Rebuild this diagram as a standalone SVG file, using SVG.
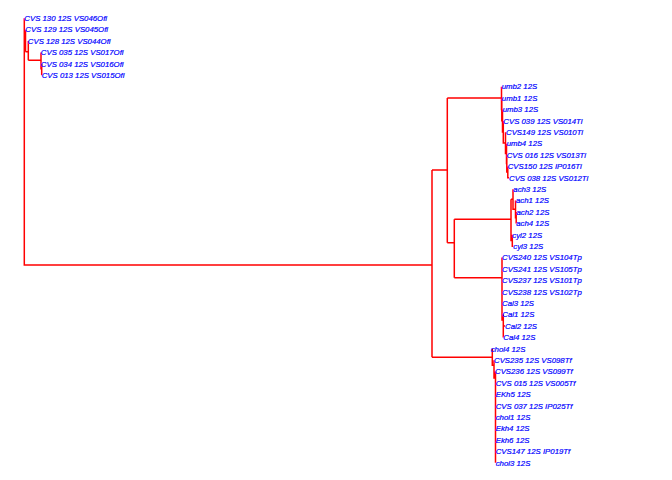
<svg xmlns="http://www.w3.org/2000/svg" width="672" height="480" viewBox="0 0 672 480">
<style>
.e{fill:none;stroke:#FF0000;stroke-width:1.5;stroke-linecap:butt}
.t{font-family:"Liberation Sans",Arial,sans-serif;font-style:italic;font-size:7.8px;fill:#0000FF;stroke:#0000FF;stroke-width:0.2}
</style>
<rect width="672" height="480" fill="#FFFFFF"/>
<g id="edges" class="e">
<path d="M24.3,18.3V265H432"/>
<path d="M24.3,41.2H25.5M25.5,29.7V51.7M25.5,51.7H28.3M28.3,41.1V60.2M28.3,60.2H41M41,52.5V69.6M41,69.6H41.7M41.7,63.9V75.3"/>
<path d="M432,170V357.3M432,170H447.3M447.3,98V242.7M447.3,98H501.5M447.3,242.7H454.3M454.3,219.3V277.7M454.3,219.3H511M454.3,277.7H502"/>
<path d="M501.5,86.7V109.4H501.8M501.8,98.1V120.7H502.5M502.5,109.5V131.9H503.3M503.3,120.9V142.9H505.5M505.5,132.3V153.6H506.5M506.5,143.7V163.6H506.8M506.8,155V172.1H507.8M507.8,166.4V177.8H509"/>
<path d="M511,199.2V240.5H512.3M511,199.2H513M513,189.2V209.2H515.5M515.5,200.6V217.7H516.2M516.2,212V223.4M512.3,234.8V246.2H513.3"/>
<path d="M502,257.6V320H503.3M503.3,314.6V337.4M503.3,326H505"/>
<path d="M432,357.3H492.3M492.3,348.8V365.3H494M494,360.2V378H495.5M495.5,371.6V462.7"/>
</g>
<g id="n0"><text class="t" x="24.3" y="21">CVS 130 12S VS046Ofi</text></g>
<g id="n1"><text class="t" x="25.3" y="32.4">CVS 129 12S VS045Ofi</text></g>
<g id="n2"><text class="t" x="27.8" y="43.8">CVS 128 12S VS044Ofi</text></g>
<g id="n3"><text class="t" x="40.8" y="55.2">CVS 035 12S VS017Ofi</text></g>
<g id="n4"><text class="t" x="40.8" y="66.6">CVS 034 12S VS016Ofi</text></g>
<g id="n5"><text class="t" x="41.7" y="78">CVS 013 12S VS015Ofi</text></g>
<g id="n6"><text class="t" x="501.7" y="89.4">umb2 12S</text></g>
<g id="n7"><text class="t" x="501.8" y="100.8">umb1 12S</text></g>
<g id="n8"><text class="t" x="502.7" y="112.2">umb3 12S</text></g>
<g id="n9"><text class="t" x="503.3" y="123.6">CVS 039 12S VS014Ti</text></g>
<g id="n10"><text class="t" x="506" y="135">CVS149 12S VS010Ti</text></g>
<g id="n11"><text class="t" x="506.7" y="146.4">umb4 12S</text></g>
<g id="n12"><text class="t" x="506.7" y="157.8">CVS 016 12S VS013Ti</text></g>
<g id="n13"><text class="t" x="507.7" y="169.2">CVS150 12S IP016Ti</text></g>
<g id="n14"><text class="t" x="509" y="180.6">CVS 038 12S VS012Ti</text></g>
<g id="n15"><text class="t" x="513.3" y="192">ach3 12S</text></g>
<g id="n16"><text class="t" x="516" y="203.4">ach1 12S</text></g>
<g id="n17"><text class="t" x="516.5" y="214.8">ach2 12S</text></g>
<g id="n18"><text class="t" x="516.2" y="226.2">ach4 12S</text></g>
<g id="n19"><text class="t" x="512.3" y="237.6">cyl2 12S</text></g>
<g id="n20"><text class="t" x="513.3" y="249">cyl3 12S</text></g>
<g id="n21"><text class="t" x="502" y="260.3">CVS240 12S VS104Tp</text></g>
<g id="n22"><text class="t" x="502" y="271.7">CVS241 12S VS105Tp</text></g>
<g id="n23"><text class="t" x="502" y="283.1">CVS237 12S VS101Tp</text></g>
<g id="n24"><text class="t" x="502" y="294.5">CVS238 12S VS102Tp</text></g>
<g id="n25"><text class="t" x="502" y="305.9">Cal3 12S</text></g>
<g id="n26"><text class="t" x="502.3" y="317.3">Cal1 12S</text></g>
<g id="n27"><text class="t" x="505" y="328.7">Cal2 12S</text></g>
<g id="n28"><text class="t" x="503.3" y="340.1">Cal4 12S</text></g>
<g id="n29"><text class="t" x="490.7" y="351.5">chol4 12S</text></g>
<g id="n30"><text class="t" x="494" y="362.9">CVS235 12S VS098Tf</text></g>
<g id="n31"><text class="t" x="495" y="374.3">CVS236 12S VS099Tf</text></g>
<g id="n32"><text class="t" x="495.7" y="385.7">CVS 015 12S VS005Tf</text></g>
<g id="n33"><text class="t" x="495.7" y="397.1">EKh5 12S</text></g>
<g id="n34"><text class="t" x="495.7" y="408.5">CVS 037 12S IP025Tf</text></g>
<g id="n35"><text class="t" x="495.7" y="419.9">chol1 12S</text></g>
<g id="n36"><text class="t" x="495.7" y="431.3">Ekh4 12S</text></g>
<g id="n37"><text class="t" x="495.7" y="442.7">Ekh6 12S</text></g>
<g id="n38"><text class="t" x="495.7" y="454.1">CVS147 12S IP019Tf</text></g>
<g id="n39"><text class="t" x="495.7" y="465.5">chol3 12S</text></g>
</svg>
